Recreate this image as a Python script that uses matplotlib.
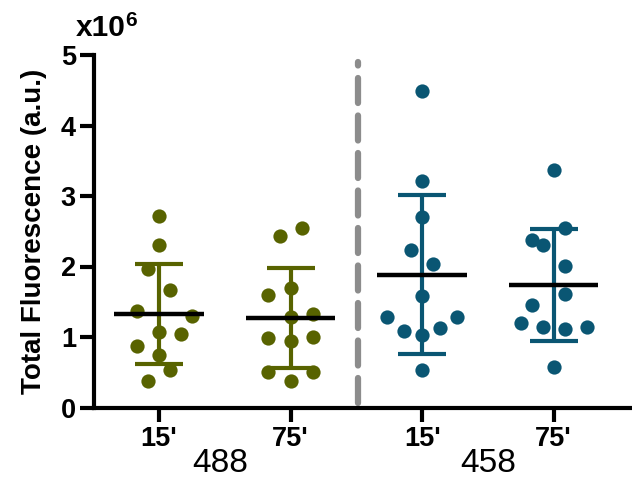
import numpy as np
import matplotlib
matplotlib.use("Agg")
import matplotlib.pyplot as plt

plt.rcParams['font.family'] = ['Liberation Sans', 'DejaVu Sans']

# Valeurs (x10^6)
g488_15 = [2.71, 2.30, 1.96, 1.66, 1.37, 1.30, 1.07, 1.04, 0.87, 0.75, 0.53, 0.37]
g488_75 = [2.43, 2.54, 1.70, 1.59, 1.28, 1.33, 0.99, 0.95, 1.00, 0.50, 0.50, 0.37]
g458_15 = [4.49, 3.21, 2.70, 2.23, 2.03, 1.58, 1.28, 1.08, 1.03, 1.13, 1.29, 0.53]
g458_75 = [3.37, 2.55, 2.37, 2.31, 2.01, 1.61, 1.45, 1.20, 1.14, 1.11, 1.14, 0.58]

# decalage horizontal des points (en pas de ~1 demi-marqueur)
off_488_15 = [0, 0, -1, 1, -2, 3, 0, 2, -2, 0, 1, -1]
off_488_75 = [-1, 1, 0, -2, 0, 2, -2, 0, 2, -2, 2, 0]
off_458_15 = [0, 0, 0, -1, 1, 0, -3.2, -1.6, 0, 1.6, 3.2, 0]
off_458_75 = [0, 1, -2, -1, 1, 1, -2, -3, -1, 1, 3, 0]

tick_labels = ["15'", "75'", "15'", "75'"]
groupes = ["488", "458"]

donnees = [g488_15, g488_75, g458_15, g458_75]
decalages = [off_488_15, off_488_75, off_458_15, off_458_75]
couleurs = ['#586300', '#586300', '#0a5673', '#0a5673']

fig = plt.figure(figsize=(6.32, 4.84), dpi=100)
ax = fig.add_axes([94/632, 1-407.5/484, 536/632, 352.5/484])

pas = 0.084
for i, (vals, off, c) in enumerate(zip(donnees, decalages, couleurs)):
    vals = np.array(vals)
    x = i + pas*np.array(off)
    ax.scatter(x, vals, s=105, color=c, zorder=3, linewidths=0)
    m = vals.mean()
    sd = vals.std(ddof=1)
    ax.errorbar(i, m, yerr=sd, color=c, elinewidth=3, capsize=17, capthick=3, zorder=2)
    ax.plot([i-0.34, i+0.34], [m, m], color='black', lw=3.2, zorder=4, solid_capstyle='butt')

ax.plot([1.51, 1.51], [0.07, 4.9], color='#8c8c8c', lw=4.5, dashes=(4, 2), dash_capstyle='round')

ax.set_xlim(-0.494, 3.58)
ax.set_ylim(0, 5)
ax.set_xticks(range(4))
ax.set_xticklabels(tick_labels, fontsize=19.5, fontweight='bold')
ax.set_yticks(range(6))
ax.set_yticklabels([str(v) for v in range(6)], fontsize=19.5, fontweight='bold')
ax.tick_params(width=3, length=10)
ax.tick_params(axis='x', pad=3)
ax.tick_params(axis='y', pad=3)
for s in ['top', 'right']:
    ax.spines[s].set_visible(False)
for s in ['left', 'bottom']:
    ax.spines[s].set_linewidth(3)
ax.set_ylabel("Total Fluorescence (a.u.)", fontsize=20, fontweight='bold', labelpad=10)

fig.text(220/632, 1-463/484, groupes[0], fontsize=24, ha='center', va='center')
fig.text(488/632, 1-463/484, groupes[1], fontsize=24, ha='center', va='center')
fig.text(76/632, 1-36/484, "x10", fontsize=21.5, fontweight='bold', ha='left', va='baseline')
fig.text(125/632, 1-26/484, "6", fontsize=15, fontweight='bold', ha='left', va='baseline')

fig.savefig("out.png", dpi=100)
